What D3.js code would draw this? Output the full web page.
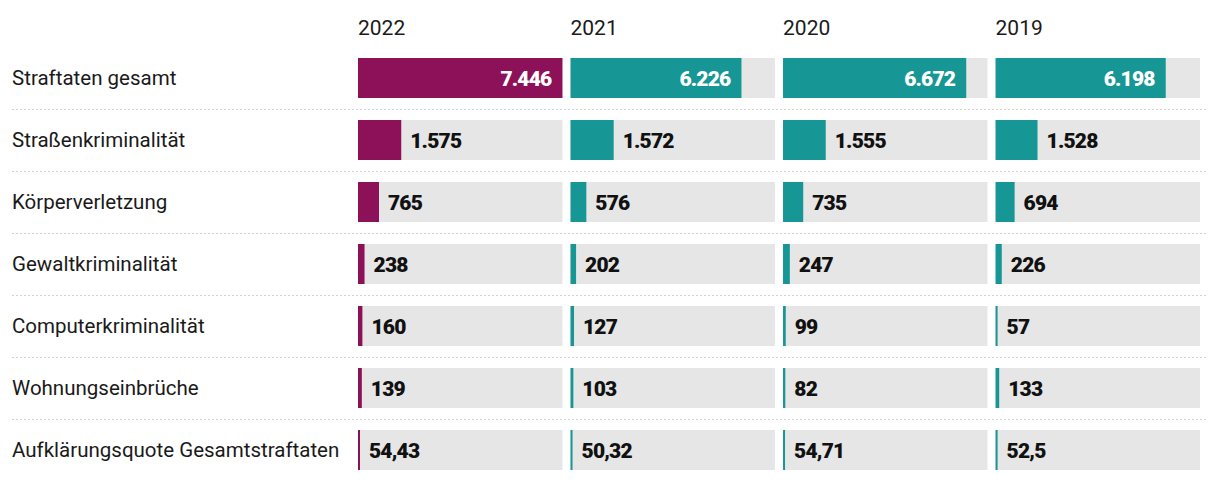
<!DOCTYPE html>
<html><head><meta charset="utf-8">
<script src="https://cdn.jsdelivr.net/npm/d3@7"></script>
<style>
html,body{margin:0;padding:0;background:#fff;}
svg{display:block;font-family:Roboto,"Noto Sans",sans-serif;}
</style></head>
<body>
<svg id="chart" width="1220" height="482"></svg>
<script>
const categories = ["Straftaten gesamt","Straßenkriminalität","Körperverletzung","Gewaltkriminalität","Computerkriminalität","Wohnungseinbrüche","Aufklärungsquote Gesamtstraftaten"];
const years = ["2022","2021","2020","2019"];
const values2022 = [7446,1575,765,238,160,139,54.43];
const values2021 = [6226,1572,576,202,127,103,50.32];
const values2020 = [6672,1555,735,247,99,82,54.71];
const values2019 = [6198,1528,694,226,57,133,52.5];
const seriesValues = [values2022, values2021, values2020, values2019];
const colors = ["#8c1159","#169695","#169695","#169695"];

const W = 1220, H = 482;
const svg = d3.select("#chart");
const de = d3.formatLocale({decimal:",", thousands:".", grouping:[3], currency:["","€"]});
const fmt = de.format(",~f");

const col = d3.scaleBand().domain(years).range([358,1200]).paddingInner(0.038);
const row = d3.scaleBand().domain(categories).range([58,470]).paddingInner(22/62).paddingOuter(0);
const maxV = d3.max(seriesValues.flat());
const x = d3.scaleLinear().domain([0,maxV]).range([0,col.bandwidth()]);

// year headers
svg.selectAll("text.year").data(years).join("text")
  .attr("x", d=>col(d)).attr("y", 35)
  .attr("font-size", 21).attr("fill","#1a1a1a").text(d=>d);

// separators
svg.selectAll("line.sep").data(categories.slice(1)).join("line")
  .attr("x1",12).attr("x2",1208)
  .attr("y1", d=>row(d)-10.5).attr("y2", d=>row(d)-10.5)
  .attr("stroke","#d2d2d2").attr("stroke-width",1).attr("stroke-dasharray","2 2");

// row labels
svg.selectAll("text.cat").data(categories).join("text")
  .attr("x",12).attr("y", d=>row(d)+row.bandwidth()/2+7)
  .attr("font-size",20.5).attr("fill","#1a1a1a").text(d=>d);

years.forEach((yr,i)=>{
  const g = svg.append("g").attr("transform",`translate(${col(yr)},0)`);
  const data = categories.map((c,j)=>({c, v: seriesValues[i][j]}));
  g.selectAll("rect.bg").data(data).join("rect")
    .attr("x",0).attr("y",d=>row(d.c)).attr("width",col.bandwidth()).attr("height",row.bandwidth())
    .attr("fill","#e6e6e6");
  g.selectAll("rect.bar").data(data).join("rect")
    .attr("x",0).attr("y",d=>row(d.c)).attr("width",d=>Math.max(2,x(d.v))).attr("height",row.bandwidth())
    .attr("fill",colors[i]);
  g.selectAll("text.val").data(data).join("text")
    .attr("y",d=>row(d.c)+row.bandwidth()/2+8)
    .attr("x",d=> x(d.v)>100 ? x(d.v)-11 : Math.max(2,x(d.v))+9)
    .attr("text-anchor",d=> x(d.v)>100 ? "end" : "start")
    .attr("fill",d=> x(d.v)>100 ? "#fff" : "#111")
    .attr("font-size",21).attr("font-weight",900).attr("letter-spacing",-0.8)
    .text(d=>fmt(d.v));
});
</script>
</body></html>
